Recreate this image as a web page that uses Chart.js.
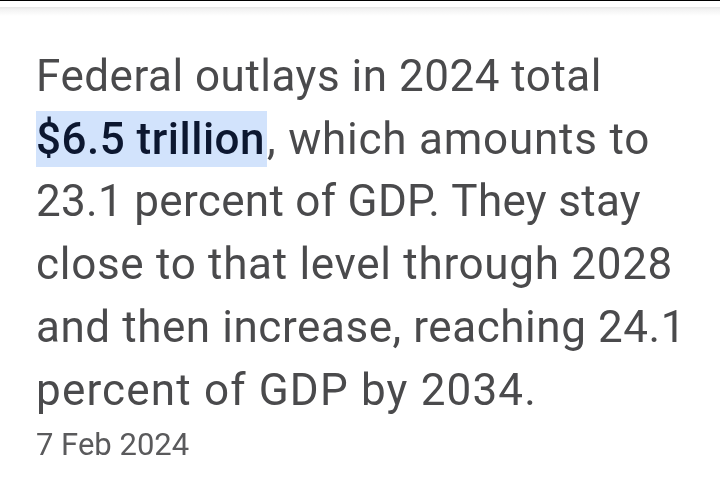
<!DOCTYPE html>
<html>
<head>
<meta charset="utf-8">
<script src="https://cdn.jsdelivr.net/npm/chart.js@4"></script>
<style>
  html, body { margin: 0; padding: 0; background: #fff; }
  #wrap { position: relative; width: 720px; height: 498px; overflow: hidden; }
  canvas { position: absolute; left: 0; top: 0; }
</style>
</head>
<body>
<div id="wrap"><canvas id="c" width="720" height="498"></canvas></div>
<script>
// the picture is a text snippet, there is no series to plot
const lines = [
  'Federal outlays in 2024 total',
  '$6.5 trillion, which amounts to',
  '23.1 percent of GDP. They stay',
  'close to that level through 2028',
  'and then increase, reaching 24.1',
  'percent of GDP by 2034.'
];
const lineWidths = [566, 614, 605, 637, 650, 501];
const highlighted = '$6.5 trillion';
const highlightWidth = 231;
const dateLabel = '7 Feb 2024';

const textFont = '400 44px Roboto, "Open Sans", sans-serif';
const boldFont = '500 44px Roboto, "Open Sans", sans-serif';
const dateFont = '400 31px Roboto, "Open Sans", sans-serif';
const textColor = '#4a4a4c';
const boldColor = '#0c1730';
const dateColor = '#5a5a5c';

// spacing needed for a string to fill a given width
function fitSpacing(ctx, str, width) {
  ctx.letterSpacing = '0px';
  return ((width - ctx.measureText(str).width) / str.length) + 'px';
}

const snippetPlugin = {
  id: 'snippet',
  afterDraw(chart) {
    const ctx = chart.ctx;
    ctx.save();

    // top edge of the screen
    ctx.fillStyle = '#000000';
    ctx.fillRect(0, 0, 720, 1);
    const shadow = ctx.createLinearGradient(0, 7, 0, 16);
    shadow.addColorStop(0, '#e6e6e6');
    shadow.addColorStop(0.3, '#f3f3f3');
    shadow.addColorStop(1, '#ffffff');
    ctx.fillStyle = shadow;
    ctx.fillRect(0, 7, 720, 9);

    ctx.textBaseline = 'alphabetic';
    lines.forEach((line, i) => {
      const y = 91 + i * 62.7;
      ctx.font = textFont;
      if (i === 1) {
        const rest = line.slice(highlighted.length);
        ctx.fillStyle = '#d2e3fc';
        ctx.fillRect(36, 111, highlightWidth, 56);
        ctx.font = boldFont;
        ctx.letterSpacing = fitSpacing(ctx, highlighted, highlightWidth - 2);
        ctx.fillStyle = boldColor;
        ctx.fillText(highlighted, 36, y);
        ctx.font = textFont;
        ctx.letterSpacing = fitSpacing(ctx, rest, lineWidths[i] - highlightWidth);
        ctx.fillStyle = textColor;
        ctx.fillText(rest, 36 + highlightWidth, y);
      } else {
        ctx.letterSpacing = fitSpacing(ctx, line, lineWidths[i]);
        ctx.fillStyle = textColor;
        ctx.fillText(line, 36, y);
      }
    });

    ctx.font = dateFont;
    ctx.letterSpacing = '0px';
    ctx.fillStyle = dateColor;
    ctx.fillText(dateLabel, 36, 455);
    ctx.restore();
  }
};

new Chart(document.getElementById('c'), {
  type: 'bar',
  data: { labels: [], datasets: [] },
  options: {
    responsive: false,
    animation: false,
    plugins: { legend: { display: false }, tooltip: { enabled: false } },
    scales: { x: { display: false }, y: { display: false } }
  },
  plugins: [snippetPlugin]
});
</script>
</body>
</html>
